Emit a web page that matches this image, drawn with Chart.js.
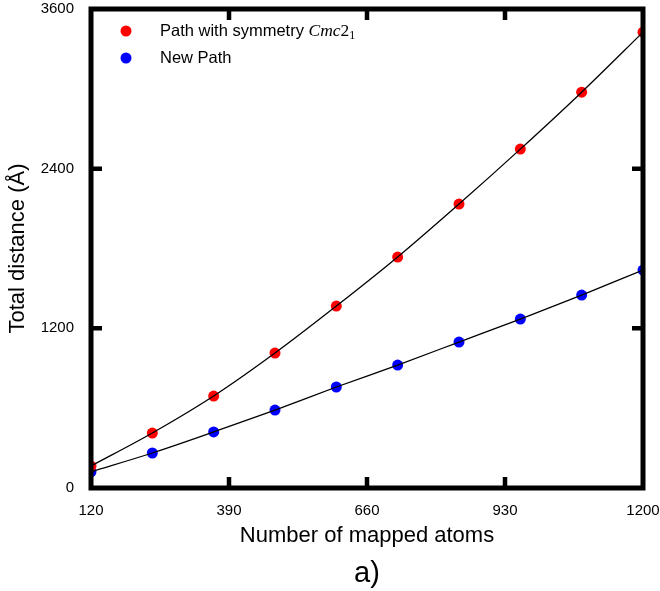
<!DOCTYPE html>
<html>
<head>
<meta charset="utf-8">
<script src="https://cdn.jsdelivr.net/npm/chart.js@4/dist/chart.umd.min.js"></script>
<style>
  html, body { margin: 0; padding: 0; background: #fff; }
  #wrap { width: 660px; height: 591px; }
</style>
</head>
<body>
<div id="wrap"><canvas id="chart"></canvas></div>
<script>
// data
const atoms = [120, 240, 360, 480, 600, 720, 840, 960, 1080, 1200];
const symPath = [165, 413, 691, 1014, 1367, 1736, 2134, 2547, 2975, 3426];
const newPath = [122, 263, 421, 586, 759, 924, 1097, 1270, 1450, 1638];
const xTicks = [120, 390, 660, 930, 1200];
const yTicks = [0, 1200, 2400, 3600];

const FONT = '"Liberation Sans", Arial, sans-serif';
const SERIF = '"Liberation Serif", "Times New Roman", serif';

const pts = ys => atoms.map((x, i) => ({ x, y: ys[i] }));

// frame, inward ticks, legend and the "a)" label
const framePlugin = {
  id: 'frame',
  afterDraw(chart) {
    const { ctx, chartArea: a, scales: { x, y } } = chart;
    ctx.save();
    ctx.strokeStyle = '#000';
    ctx.lineWidth = 5;
    ctx.strokeRect(a.left, a.top, a.right - a.left, a.bottom - a.top);

    ctx.lineWidth = 4.5;
    ctx.beginPath();
    xTicks.slice(1, -1).forEach(v => {
      const px = x.getPixelForValue(v);
      ctx.moveTo(px, a.bottom); ctx.lineTo(px, a.bottom - 11);
      ctx.moveTo(px, a.top); ctx.lineTo(px, a.top + 11);
    });
    yTicks.slice(1, -1).forEach(v => {
      const py = y.getPixelForValue(v);
      ctx.moveTo(a.left, py); ctx.lineTo(a.left + 11, py);
      ctx.moveTo(a.right, py); ctx.lineTo(a.right - 11, py);
    });
    ctx.stroke();

    // legend
    const items = [
      { color: '#ff0000', y: 31, sym: true },
      { color: '#0000ff', y: 58, text: 'New Path' },
    ];
    ctx.textBaseline = 'middle';
    items.forEach(it => {
      ctx.fillStyle = it.color;
      ctx.beginPath();
      ctx.arc(126, it.y, 5.5, 0, Math.PI * 2);
      ctx.fill();
      ctx.fillStyle = '#000';
      ctx.font = '16.5px ' + FONT;
      ctx.textAlign = 'left';
      if (it.sym) {
        const base = 'Path with symmetry ';
        ctx.fillText(base, 160, it.y);
        let cx = 160 + ctx.measureText(base).width;
        ctx.font = 'italic 17.5px ' + SERIF;
        ctx.fillText('Cmc', cx, it.y);
        cx += ctx.measureText('Cmc').width;
        ctx.font = '17.5px ' + SERIF;
        ctx.fillText('2', cx, it.y);
        cx += ctx.measureText('2').width;
        ctx.font = '12px ' + SERIF;
        ctx.fillText('1', cx, it.y + 5);
      } else {
        ctx.fillText(it.text, 160, it.y);
      }
    });

    ctx.font = '29px ' + FONT;
    ctx.textAlign = 'center';
    ctx.fillText('a)', 367, 574);
    ctx.restore();
  }
};

Chart.defaults.color = '#000';
Chart.defaults.font.family = FONT;

new Chart(document.getElementById('chart'), {
  type: 'scatter',
  data: {
    datasets: [
      { data: pts(symPath), showLine: true, borderColor: '#000', borderWidth: 1.3,
        pointRadius: 0, cubicInterpolationMode: 'monotone', order: 0, clip: 0 },
      { data: pts(newPath), showLine: true, borderColor: '#000', borderWidth: 1.3,
        pointRadius: 0, cubicInterpolationMode: 'monotone', order: 0, clip: 0 },
      { data: pts(symPath), pointRadius: 5.5, pointBackgroundColor: '#ff0000',
        pointBorderWidth: 0, order: 1, clip: 0 },
      { data: pts(newPath), pointRadius: 5.5, pointBackgroundColor: '#0000ff',
        pointBorderWidth: 0, order: 1, clip: 0 },
    ]
  },
  options: {
    responsive: true,
    maintainAspectRatio: false,
    animation: false,
    events: [],
    layout: { padding: { top: 9, right: 17, left: 0, bottom: 0 } },
    plugins: { legend: { display: false }, tooltip: { enabled: false } },
    scales: {
      x: {
        type: 'linear', min: 120, max: 1200,
        afterBuildTicks: s => { s.ticks = xTicks.map(v => ({ value: v })); },
        afterFit: s => { s.height = 103; s.paddingLeft = 0; s.paddingRight = 0; },
        grid: { display: false, drawTicks: false },
        border: { display: false },
        ticks: { font: { size: 15 }, padding: 14, maxRotation: 0, callback: v => String(v) },
        title: { display: true, text: 'Number of mapped atoms', font: { size: 22 },
                 padding: { top: 0, bottom: 42 } },
      },
      y: {
        type: 'linear', min: 0, max: 3600,
        afterBuildTicks: s => { s.ticks = yTicks.map(v => ({ value: v })); },
        afterFit: s => { s.width = 91; s.paddingTop = 0; s.paddingBottom = 0; },
        grid: { display: false, drawTicks: false },
        border: { display: false },
        ticks: { font: { size: 15 }, padding: 17, callback: v => String(v) },
        title: { display: true, text: 'Total distance (Å)', font: { size: 22 },
                 padding: { top: 5, bottom: 0 } },
      }
    }
  },
  plugins: [framePlugin]
});
</script>
</body>
</html>
